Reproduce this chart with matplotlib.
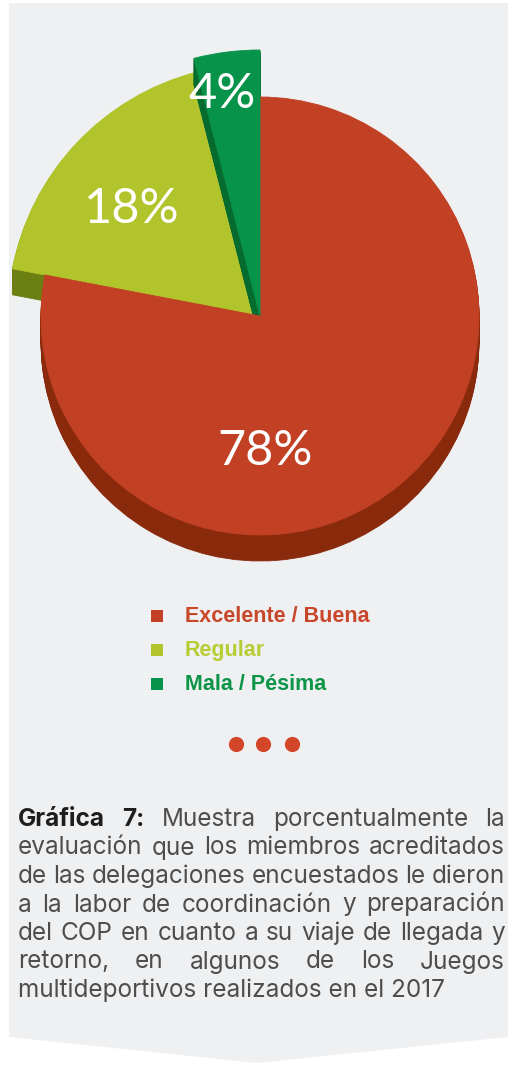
import matplotlib
matplotlib.use('Agg')
import matplotlib.pyplot as plt
from matplotlib.patches import Polygon

W, H = 513, 1065

# data
categories = ['Excelente / Buena', 'Regular', 'Mala / Pésima']
values = [78, 18, 4]
pct_labels = ['78%', '18%', '4%']

top_colors = ['#c24124', '#b2c42c', '#08934a']
side_colors = ['#8a2a0c', '#6b7f12', '#066b2f']
legend_colors = ['#c8472a', '#b8cc34', '#0c9447']
radii = [219, 252, 266]

caption_lines = [
    [('Gráfica', 'bold'), ('7:', 'bold'), ('Muestra', 'normal'),
     ('porcentualmente', 'normal'), ('la', 'normal')],
    'evaluación que los miembros acreditados',
    'de las delegaciones encuestados le dieron',
    'a la labor de coordinación y preparación',
    'del COP en cuanto a su viaje de llegada y',
    'retorno, en algunos de los Juegos',
]
caption_last = 'multideportivos realizados en el 2017'

fig = plt.figure(figsize=(W / 100, H / 100), dpi=100)
fig.patch.set_facecolor('white')
ax = fig.add_axes([0, 0, 1, 1])

# background card with chevron bottom
ax.add_patch(Polygon([(9, 3), (508, 3), (508, 1037), (257, 1063), (9, 1037)],
                     closed=True, fc='#eff0f2', ec='none', zorder=0))

# pie with fake depth: stack copies shifted downward
# draw order: red side, yellow side, yellow top, green side, red top, green top
side_z = [1, 2, 4]
top_z = [5, 3, 6]
cx, cy = 260, 316
depth = 26
for k in range(depth, -1, -1):
    wedges, _ = ax.pie(values, startangle=-90, counterclock=True,
                       center=(cx, cy + k), radius=1, frame=True)
    for i, w in enumerate(wedges):
        w.set_radius(radii[i])
        if k > 0:
            w.set_facecolor(side_colors[i])
            w.set_edgecolor(side_colors[i])
            w.set_zorder(side_z[i])
        else:
            w.set_facecolor(top_colors[i])
            w.set_edgecolor(top_colors[i])
            w.set_zorder(top_z[i])
        w.set_linewidth(0.6)

lab_pos = [(265, 465), (132, 223), (222, 108)]
for (x, y), t in zip(lab_pos, pct_labels):
    ax.text(x, y, t, color='white', fontsize=35, family='Lato',
            ha='center', va='baseline', zorder=10)

# legend
rows = [622, 656, 690]
for i, c in enumerate(categories):
    ax.scatter([157], [rows[i] - 6], marker='s', s=85, color=top_colors[i],
               linewidths=0, zorder=5)
    ax.text(185, rows[i], c, color=legend_colors[i], fontsize=15.5,
            family='Liberation Sans', fontweight='bold', va='baseline', ha='left')

# dots
ax.scatter([236, 263, 292], [744, 744, 744], s=120, color='#d4462a',
           linewidths=0, zorder=5)

# caption, justified
renderer = fig.canvas.get_renderer()
x0, x1 = 18, 505
base0, step = 826, 28.5
cap_font = 'Inter'
cap_col = '#4d4d4d'

# size the caption so the last (unjustified) line ends where it does
last = ax.text(x0, base0 + 6 * step, caption_last, fontsize=15, family=cap_font,
               color=cap_col, va='baseline', ha='left')
cap_fs = 15 * 427 / last.get_window_extent(renderer).width
last.set_fontsize(cap_fs)

for li, line in enumerate(caption_lines):
    if isinstance(line, str):
        words = [(w, 'normal') for w in line.split()]
    else:
        words = line
    y = base0 + li * step
    texts = []
    for w, wt in words:
        t = ax.text(0, y, w, fontsize=cap_fs, family=cap_font, fontweight=wt,
                    color='#1e1e1e' if wt == 'bold' else cap_col,
                    va='baseline', ha='left')
        texts.append(t)
    widths = [t.get_window_extent(renderer).width for t in texts]
    gap = (x1 - x0 - sum(widths)) / (len(texts) - 1)
    x = x0
    for t, wd in zip(texts, widths):
        t.set_x(x)
        x += wd + gap

ax.set_xlim(0, W)
ax.set_ylim(H, 0)
ax.set_aspect('auto')
ax.axis('off')

fig.savefig('out.png', dpi=100, facecolor='white')
